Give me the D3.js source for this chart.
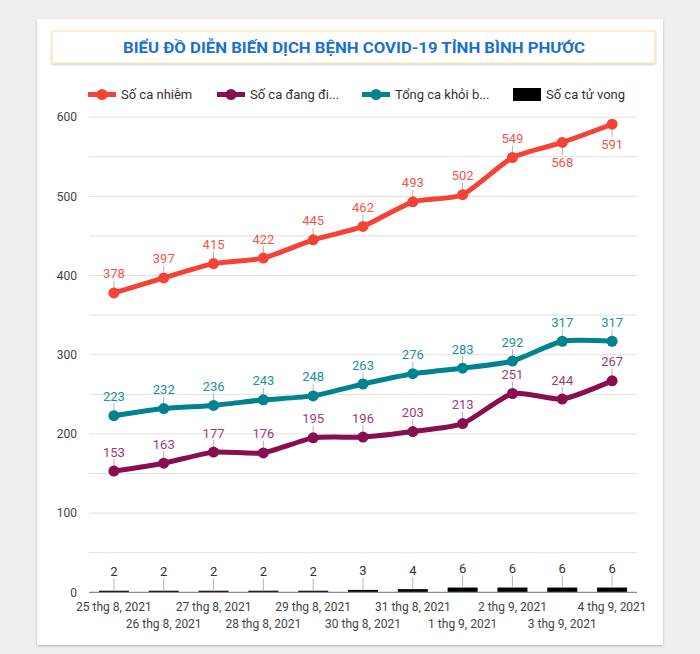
<!DOCTYPE html>
<html><head><meta charset="utf-8">
<script src="https://cdn.jsdelivr.net/npm/d3@7"></script>
<style>
html,body{margin:0;padding:0;background:#eeeeee;}
svg{display:block;font-family:Roboto, "Noto Sans", sans-serif;}
</style></head>
<body>
<svg id="chart" width="700" height="654"></svg>
<script>
const title = "BIỂU ĐỒ DIỄN BIẾN DỊCH BỆNH COVID-19 TỈNH BÌNH PHƯỚC";
const dates = ["25 thg 8, 2021","26 thg 8, 2021","27 thg 8, 2021","28 thg 8, 2021","29 thg 8, 2021","30 thg 8, 2021","31 thg 8, 2021","1 thg 9, 2021","2 thg 9, 2021","3 thg 9, 2021","4 thg 9, 2021"];
const infected = [378,397,415,422,445,462,493,502,549,568,591];
const treating = [153,163,177,176,195,196,203,213,251,244,267];
const recovered = [223,232,236,243,248,263,276,283,292,317,317];
const deaths = [2,2,2,2,2,3,4,6,6,6,6];
const infectedLabelBelow = [false,false,false,false,false,false,false,false,false,true,true];
const legendNames = ["Số ca nhiễm","Số ca đang đi...","Tổng ca khỏi b...","Số ca tử vong"];
const yTicks = [0,100,200,300,400,500,600];
const gridTicks = [50,100,150,200,250,300,350,400,450,500,550,600];

const colors = {infected:"#f44336", treating:"#880e4f", recovered:"#00838f", deaths:"#000000"};
const labelColors = {infected:"#f4554a", treating:"#a33a6f", recovered:"#18929b", deaths:"#333333"};

const svg = d3.select("#chart");
const defs = svg.append("defs");
const f = defs.append("filter").attr("id","shadow").attr("x","-5%").attr("y","-5%").attr("width","110%").attr("height","115%");
f.append("feDropShadow").attr("dx",0).attr("dy",1).attr("stdDeviation",1.2).attr("flood-color","#000").attr("flood-opacity",0.25);

// card
svg.append("rect").attr("x",37).attr("y",19).attr("width",626).attr("height",626).attr("fill","#fff").attr("filter","url(#shadow)");
// title box
svg.append("rect").attr("x",52).attr("y",31).attr("width",603).attr("height",32).attr("fill","#fff")
  .attr("stroke","#fbe6a6").attr("stroke-width",1).attr("filter","url(#shadow)");
svg.append("text").attr("x",354).attr("y",52.5).attr("text-anchor","middle")
  .attr("font-size",15.5).attr("font-weight","bold").attr("fill","#1c6fcf")
  .attr("textLength",462).attr("lengthAdjust","spacingAndGlyphs").text(title);

const x = d3.scaleBand().domain(dates).range([89,637]).padding(0);
const y = d3.scaleLinear().domain([0,600]).range([592.3,117.1]);
const cx = d => x(d) + x.bandwidth()/2;

// grid
svg.append("g").selectAll("line").data(gridTicks).join("line")
  .attr("x1",89).attr("x2",637).attr("y1",d=>y(d)).attr("y2",d=>y(d))
  .attr("stroke","#e0e0e0").attr("stroke-width",1);

// y axis labels
const yAxis = d3.axisLeft(y).tickValues(yTicks).tickSize(0).tickPadding(0).tickFormat(d3.format("d"));
const ya = svg.append("g").attr("transform","translate(77,0)").call(yAxis);
ya.select(".domain").remove();
ya.selectAll("text").attr("font-size",12).attr("fill","#444").attr("font-family","Roboto");

// bars
const bw = 30;
svg.append("g").selectAll("rect").data(deaths).join("rect")
  .attr("x",(d,i)=>cx(dates[i])-bw/2).attr("width",bw)
  .attr("y",d=>y(d)).attr("height",d=>y(0)-y(d)).attr("fill",colors.deaths);

// zero axis line
svg.append("line").attr("x1",89).attr("x2",637).attr("y1",y(0)).attr("y2",y(0)).attr("stroke","#8c8c8c").attr("stroke-width",1.2);

// x axis labels
const xAxis = d3.axisBottom(x).tickSize(0).tickPadding(0);
const xa = svg.append("g").attr("transform",`translate(0,${y(0)})`).call(xAxis);
xa.select(".domain").remove();
xa.selectAll("text").attr("font-size",12).attr("fill","#444").attr("font-family","Roboto")
  .attr("dy",null).attr("y",(d,i)=> i%2===0 ? 19 : 36);

// lines
const lineGen = d3.line().x((d,i)=>cx(dates[i])).y(d=>y(d)).curve(d3.curveCardinal.tension(0.4));
const series = [
  {key:"infected", vals:infected},
  {key:"treating", vals:treating},
  {key:"recovered", vals:recovered}
];
series.forEach(s=>{
  svg.append("path").datum(s.vals).attr("d",lineGen).attr("fill","none")
    .attr("stroke",colors[s.key]).attr("stroke-width",5).attr("stroke-linejoin","round").attr("stroke-linecap","round");
});

// leader lines and labels
function addLabels(vals, key, belowArr){
  const g = svg.append("g");
  vals.forEach((v,i)=>{
    const px = cx(dates[i]), py = y(v);
    const below = belowArr ? belowArr[i] : false;
    g.append("line").attr("x1",px).attr("x2",px).attr("y1",py).attr("y2", below ? py+13 : py-12)
      .attr("stroke","#b5b5b5").attr("stroke-width",1);
  });
  return g;
}
addLabels(deaths,"deaths");
series.forEach(s=> addLabels(s.vals, s.key, s.key==="infected"?infectedLabelBelow:null));

series.forEach(s=>{
  svg.append("g").selectAll("circle").data(s.vals).join("circle")
    .attr("cx",(d,i)=>cx(dates[i])).attr("cy",d=>y(d)).attr("r",5.5).attr("fill",colors[s.key]);
});

function addText(vals,key,belowArr){
  svg.append("g").selectAll("text").data(vals).join("text")
    .attr("x",(d,i)=>cx(dates[i]))
    .attr("y",(d,i)=> (belowArr && belowArr[i]) ? y(d)+25 : y(d)-14.5)
    .attr("text-anchor","middle").attr("font-size",13).attr("fill",labelColors[key])
    .text(d=>d);
}
addText(deaths,"deaths");
series.forEach(s=> addText(s.vals, s.key, s.key==="infected"?infectedLabelBelow:null));

// legend
const legendX = [88,217,362,513];
const legendKeys = ["infected","treating","recovered","deaths"];
const lg = svg.append("g");
legendKeys.forEach((k,i)=>{
  const lx = legendX[i], ly = 94.5;
  if(k==="deaths"){
    lg.append("rect").attr("x",lx).attr("y",ly-6.5).attr("width",28).attr("height",13).attr("fill","#000");
  } else {
    lg.append("line").attr("x1",lx).attr("x2",lx+28).attr("y1",ly).attr("y2",ly).attr("stroke",colors[k]).attr("stroke-width",5);
    lg.append("circle").attr("cx",lx+14).attr("cy",ly).attr("r",5.5).attr("fill",colors[k]);
  }
  lg.append("text").attr("x",lx+33).attr("y",ly+4.5).attr("font-size",13).attr("fill","#333").text(legendNames[i]);
});
</script>
</body></html>
